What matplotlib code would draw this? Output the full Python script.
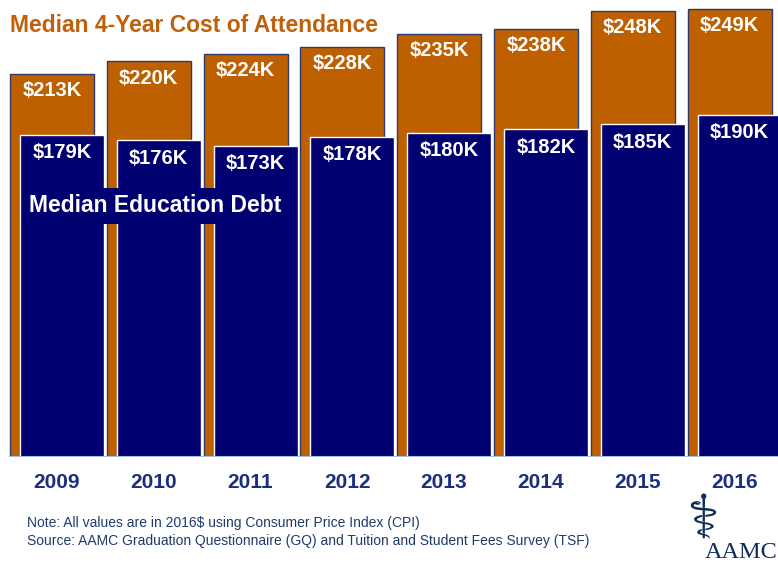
import numpy as np
import matplotlib
matplotlib.use("Agg")
from matplotlib import pyplot as plt

plt.rcParams['font.family'] = ['Liberation Sans', 'DejaVu Sans']

# data
years = ['2009', '2010', '2011', '2012', '2013', '2014', '2015', '2016']
cost = [213, 220, 224, 228, 235, 238, 248, 249]   # median 4-year cost of attendance, $K
debt = [179, 176, 173, 178, 180, 182, 185, 190]   # median education debt, $K

ORANGE = '#BF6000'
NAVY = '#000070'
YEARCOL = '#1C2E7E'
W, H = 778, 563

def px(x, y):   # pixel position (from top-left) -> figure fraction
    return x / W, 1 - y / H

fig = plt.figure(figsize=(W / 100, H / 100), dpi=100)
base = 457
ax = fig.add_axes([0, (H - base) / H, 1, base / H])
step = 96.8
ax.set_xlim(-52 / step, (W - 52) / step)
ax.set_ylim(0, base / 1.8)
ax.axis('off')

x = np.arange(len(years))
bw = 84 / step
off = 10 / step
ax.bar(x, cost, width=bw, color=ORANGE, edgecolor='#2B3A6B', linewidth=1, zorder=2)
ax.bar(x + off, debt, width=bw, color=NAVY, edgecolor='white', linewidth=1, zorder=3)
ax.axhline(0, xmin=10 / W, xmax=1, color='#A8BCE8', linewidth=1.5, zorder=4)

lblk = dict(color='white', fontsize=14.5, fontweight='bold', ha='center', va='center', zorder=6)
for i in range(len(years)):
    ax.annotate('$%dK' % cost[i], (x[i], cost[i]), xytext=(0, -17 * 0.72),
                textcoords='offset points', **lblk)
    ax.annotate('$%dK' % debt[i], (x[i] + off, debt[i]), xytext=(0, -18 * 0.72),
                textcoords='offset points', **lblk)
    ax.annotate(years[i], (x[i] + 0.05, 0), xytext=(0, -25 * 0.72),
                textcoords='offset points', color=YEARCOL, fontsize=15,
                fontweight='bold', ha='center', va='center', annotation_clip=False)

# titles / legend labels
fig.text(*px(10, 25), 'Median 4-Year Cost of Attendance', color='#C0600A',
         fontsize=16.5, fontweight='bold', ha='left', va='center')
fig.text(*px(29, 206), 'Median Education Debt', color='white', fontsize=16.5,
         fontweight='bold', ha='left', va='center', zorder=7,
         bbox=dict(boxstyle='square,pad=0.3', facecolor=NAVY, edgecolor='none'))

# notes
fig.text(*px(27, 523), 'Note: All values are in 2016$ using Consumer Price Index (CPI)',
         color='#1F3A6E', fontsize=10, ha='left', va='center')
fig.text(*px(27, 541), 'Source: AAMC Graduation Questionnaire (GQ) and Tuition and Student Fees Survey (TSF)',
         color='#1F3A6E', fontsize=10, ha='left', va='center')

# logo
fig.text(*px(703, 522), '\u2695', family='DejaVu Sans', color='#0F2D5A', fontsize=44,
         fontweight='bold', ha='center', va='center')
fig.text(*px(705, 552), 'AAMC', family='Liberation Serif', color='#0F2D5A', fontsize=17.5,
         ha='left', va='center')

fig.savefig('out.png', dpi=100)
